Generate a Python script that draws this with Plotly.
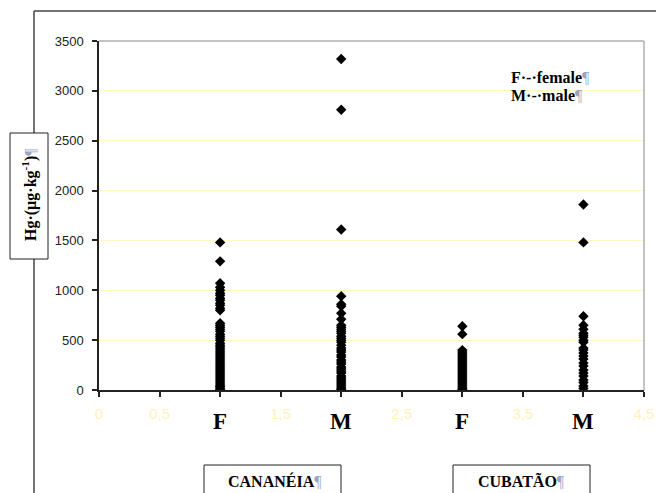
import plotly.graph_objects as go

# ---- data ----
group_x = [1, 2, 3, 4]
group_labels = ["F", "M", "F", "M"]
sites = ["CANANÉIA", "CUBATÃO"]

cananeia_f = [1480, 1290, 1070, 1030, 1000, 970, 950, 920, 900, 870, 850, 820, 800,
              670, 650, 630, 610, 590, 560, 540, 520, 500, 470, 450, 430, 410, 390,
              370, 350, 330, 310, 290, 270, 250, 230, 210, 190, 170, 150, 130, 110,
              90, 70, 50, 35, 20, 5]
cananeia_m = [3320, 2810, 1610, 940, 860, 840, 770, 710, 650, 630, 610, 590, 570, 540,
              520, 500, 480, 450, 420, 400, 380, 350, 330, 300, 280, 260, 230, 210, 190,
              170, 140, 120, 100, 80, 60, 40, 20, 5]
cubatao_f = [640, 560, 400, 380, 360, 340, 320, 300, 280, 260, 240, 220, 200, 180, 160,
             140, 120, 100, 80, 60, 40, 20, 5]
cubatao_m = [1860, 1480, 740, 650, 610, 570, 550, 530, 500, 480, 420, 400, 370, 340,
             310, 270, 240, 200, 170, 140, 100, 75, 40, 15]
series = [cananeia_f, cananeia_m, cubatao_f, cubatao_m]

y_ticks = [0, 500, 1000, 1500, 2000, 2500, 3000, 3500]
x_ticks = [0, 0.5, 1.5, 2.5, 3.5, 4.5]
x_ticktext = ["0", "0,5", "1,5", "2,5", "3,5", "4,5"]

# ---- layout geometry (pixels, reference coords) ----
W, H = 664, 493
OFF = 8  # page body margin
L, R, T, B = 99, 644, 41, 390


def px(x):
    return (x - L) / (R - L)


def py(y):
    return (B - y) / (B - T)


fig = go.Figure()
for gx, vals in zip(group_x, series):
    fig.add_trace(go.Scatter(
        x=[gx] * len(vals), y=vals, mode="markers",
        marker=dict(symbol="diamond", size=8, color="black", line=dict(width=0)),
        showlegend=False, hoverinfo="y"))

serif = "Liberation Serif, Times New Roman, serif"
sans = "Liberation Sans, Arial, sans-serif"

shapes = [
    dict(type="line", xref="paper", yref="paper", x0=px(34), x1=px(700), y0=py(11), y1=py(11),
         line=dict(color="#444", width=1.5)),
    dict(type="line", xref="paper", yref="paper", x0=px(34), x1=px(34), y0=py(11), y1=py(520),
         line=dict(color="#444", width=1.5)),
    dict(type="line", xref="paper", yref="paper", x0=0, x1=1, y0=1, y1=1,
         line=dict(color="#888", width=1)),
    dict(type="line", xref="paper", yref="paper", x0=1, x1=1, y0=0, y1=1,
         line=dict(color="#888", width=1)),
    dict(type="rect", xref="paper", yref="paper", x0=px(10), x1=px(48), y0=py(133), y1=py(259),
         line=dict(color="#222", width=1), fillcolor="white"),
    dict(type="rect", xref="paper", yref="paper", x0=px(204), x1=px(341), y0=py(465), y1=py(520),
         line=dict(color="#222", width=1), fillcolor="white"),
    dict(type="rect", xref="paper", yref="paper", x0=px(453), x1=px(590), y0=py(465), y1=py(520),
         line=dict(color="#222", width=1), fillcolor="white"),
]

pil = "<span style='color:#9aa4c0'>¶</span>"


def ann(x, y, text, size, angle=0, xanchor="center"):
    return dict(xref="paper", yref="paper", x=px(x), y=py(y), text=text, textangle=angle,
                xanchor=xanchor, yanchor="middle", showarrow=False,
                font=dict(family=serif, size=size, color="black"))


annotations = [
    ann(29, 195, "<b>Hg·(µg·kg<sup>-1</sup>)</b>" + pil, 16, angle=-90),
    ann(275, 481, "<b>" + sites[0] + "</b>" + pil, 16),
    ann(521, 481, "<b>" + sites[1] + "</b>" + pil, 16),
    ann(509, 77, "<b>F·-·female</b>" + pil, 16, xanchor="left"),
    ann(509, 95, "<b>M·-·male</b>" + pil, 16, xanchor="left"),
]
for gx, lab in zip(group_x, group_labels):
    annotations.append(dict(xref="x", yref="paper", x=gx, y=py(421), text="<b>" + lab + "</b>",
                            xanchor="center", yanchor="middle", showarrow=False,
                            font=dict(family=serif, size=23, color="black")))

fig.update_layout(
    width=W, height=H,
    margin=dict(l=L - OFF, r=W - (R - OFF), t=T - OFF, b=H - (B - OFF), pad=0),
    paper_bgcolor="white", plot_bgcolor="white",
    shapes=shapes, annotations=annotations,
    xaxis=dict(range=[0, 4.5], tickvals=x_ticks, ticktext=x_ticktext,
               showgrid=False, zeroline=False, showline=True, linecolor="#222", linewidth=1.5,
               ticks="outside", ticklen=5, tickcolor="#222", tickwidth=1.5,
               minor=dict(tickvals=group_x, ticks="outside", ticklen=5, tickcolor="#222",
                          tickwidth=1.5, showgrid=False),
               tickfont=dict(family=sans, size=15, color="#FFF3B8"), ticklabelstandoff=4),
    yaxis=dict(range=[0, 3500], tickvals=y_ticks,
               showgrid=True, gridcolor="#FFF6C0", gridwidth=1, zeroline=False,
               showline=True, linecolor="#222", linewidth=1.5,
               ticks="outside", ticklen=5, tickcolor="#222", tickwidth=1.5,
               tickfont=dict(family=sans, size=13, color="#222"), ticklabelstandoff=6),
)

fig.write_html("out.html")
